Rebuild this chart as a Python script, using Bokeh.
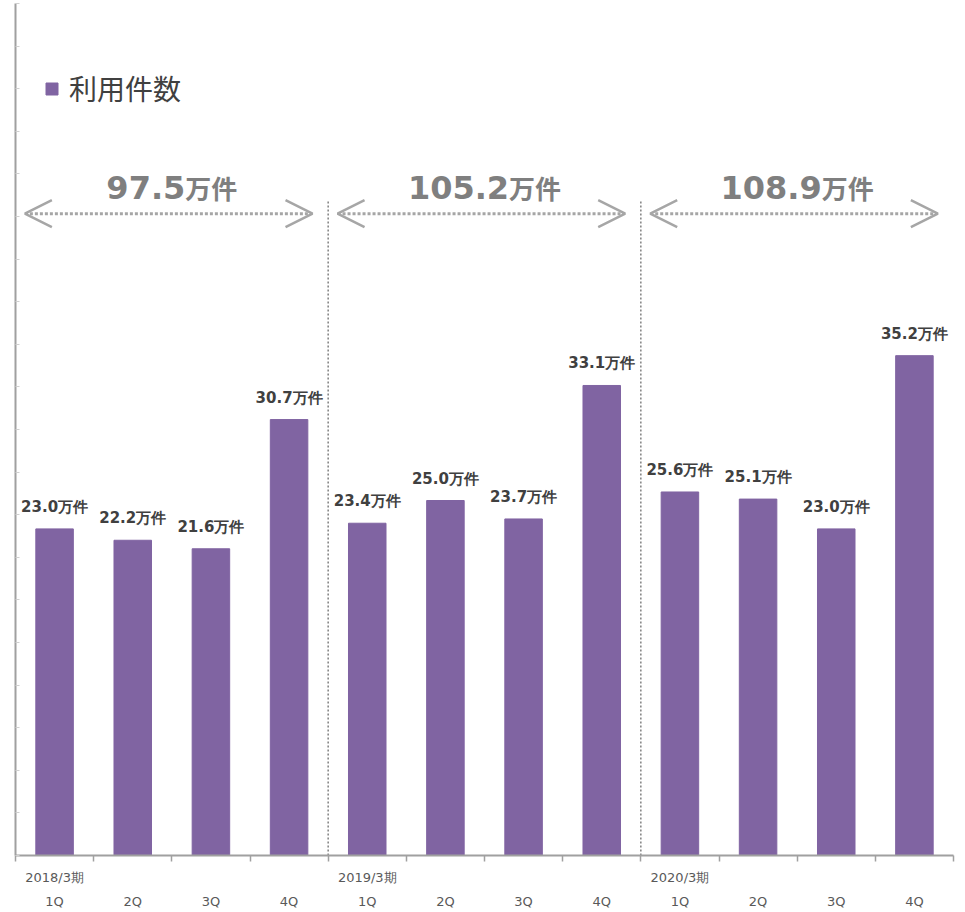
from bokeh.plotting import figure
from bokeh.models import (ColumnDataSource, Range1d, LabelSet, Arrow, OpenHead,
                          FixedTicker, Legend, LegendItem, LinearAxis)
from bokeh.core.properties import value
from bokeh.embed import file_html
from bokeh.resources import INLINE

# ---- data ----
periods = ["2018/3期", "2019/3期", "2020/3期"]
quarters = ["1Q", "2Q", "3Q", "4Q"]
values = [23.0, 22.2, 21.6, 30.7, 23.4, 25.0, 23.7, 33.1, 25.6, 25.1, 23.0, 35.2]
totals = [97.5, 105.2, 108.9]
unit = "万件"
series_name = "利用件数"

# ---- styles ----
BAR = "#8064A2"
TXT = "#404040"
TOT = "#7F7F7F"
ARW = "#A6A6A6"
AXC = "#A0A0A0"
LBL = "#595959"

n_q = len(quarters)
n = len(values)
xs = [i + 0.5 for i in range(n)]
quarter_labels = [quarters[i % n_q] for i in range(n)]
value_labels = [f"{v:.1f}{unit}" for v in values]
period_x = [i * n_q + 0.5 for i in range(len(periods))]

Y_MAX = 60
ARROW_Y = 45.2
SEP_TOP = 46.2

p = figure(width=957, height=911, x_range=Range1d(0, n), y_range=Range1d(0, Y_MAX),
           output_backend="svg", toolbar_location=None, title=None,
           x_axis_type=None, y_axis_type=None,
           min_border_left=15, min_border_right=4, min_border_top=3, min_border_bottom=56)
p.outline_line_color = None
p.xgrid.visible = False
p.ygrid.visible = False

# bottom axis: boundary ticks only
bticks = list(range(n + 1))
xax = LinearAxis(ticker=FixedTicker(ticks=bticks),
                 major_label_overrides={t: "" for t in bticks})
xax.major_label_standoff = 0
xax.major_tick_in = 0
xax.major_tick_out = 6
xax.axis_line_color = AXC
xax.axis_line_width = 2
xax.major_tick_line_color = AXC
xax.major_tick_line_width = 1.5
p.add_layout(xax, "below")

# period labels row
pax = LinearAxis(ticker=FixedTicker(ticks=period_x),
                 major_label_overrides={x: t for x, t in zip(period_x, periods)})
pax.axis_line_color = None
pax.major_tick_line_color = None
pax.major_tick_in = 0
pax.major_tick_out = 0
pax.major_label_standoff = 8
pax.major_label_text_font = "DejaVu Sans"
pax.major_label_text_font_size = "13px"
pax.major_label_text_color = LBL
p.add_layout(pax, "below")

# quarter labels row
qax = LinearAxis(ticker=FixedTicker(ticks=xs),
                 major_label_overrides={x: t for x, t in zip(xs, quarter_labels)})
qax.axis_line_color = None
qax.major_tick_line_color = None
qax.major_tick_in = 0
qax.major_tick_out = 0
qax.major_label_standoff = 6
qax.major_label_text_font = "DejaVu Sans"
qax.major_label_text_font_size = "13px"
qax.major_label_text_color = LBL
p.add_layout(qax, "below")

# left axis
lticks = [i * 3 for i in range(21)]
yax = LinearAxis(ticker=FixedTicker(ticks=lticks),
                 major_label_overrides={t: "" for t in lticks})
yax.major_label_standoff = 0
yax.major_tick_in = 4
yax.major_tick_out = 0
yax.axis_line_color = AXC
yax.axis_line_width = 2
yax.major_tick_line_color = "#D0D0D0"
yax.major_tick_line_width = 1
p.add_layout(yax, "left")

# bars
src = ColumnDataSource(dict(x=xs, v=values, label=value_labels))
r = p.vbar(x="x", top="v", width=0.48, source=src, fill_color=BAR, line_color=BAR)

p.add_layout(LabelSet(x="x", y="v", text="label", source=src, y_offset=17,
                      text_align="center", text_baseline="alphabetic",
                      text_font=value("DejaVu Sans"), text_font_style="bold",
                      text_font_size="15px", text_color=TXT))

# group separators
bounds = [i * n_q for i in range(1, len(periods))]
p.segment(x0=bounds, y0=[0] * len(bounds), x1=bounds, y1=[SEP_TOP] * len(bounds),
          line_color="#808080", line_width=1.5, line_dash="2 2")

# arrows
g_start = [i * n_q for i in range(len(periods))]
g_end = [(i + 1) * n_q for i in range(len(periods))]
asrc = ColumnDataSource(dict(x0=[g + 0.12 for g in g_start], x1=[g - 0.2 for g in g_end],
                             y=[ARROW_Y] * len(periods)))
p.add_layout(Arrow(start=OpenHead(size=27, line_color=ARW, line_width=2.5),
                   end=OpenHead(size=27, line_color=ARW, line_width=2.5),
                   x_start="x0", y_start="y", x_end="x1", y_end="y", source=asrc,
                   line_color=ARW, line_width=3, line_dash="3 2"))

# totals
NUM_PX = 32
UNIT_PX = 26
def num_width(s):
    return sum(0.38 * NUM_PX if c == "." else 0.696 * NUM_PX for c in s)
tot_txt = [f"{t:.1f}" for t in totals]
offs = [(num_width(s) - 2 * UNIT_PX) / 2 for s in tot_txt]
tsrc = ColumnDataSource(dict(x=[(a + b) / 2 for a, b in zip(g_start, g_end)],
                             y=[ARROW_Y] * len(totals), t=tot_txt, u=[unit] * len(totals),
                             off=offs))
p.add_layout(LabelSet(x="x", y="y", text="t", source=tsrc, x_offset="off", y_offset=15,
                      text_align="right", text_baseline="alphabetic",
                      text_font=value("DejaVu Sans"), text_font_style="bold",
                      text_font_size=f"{NUM_PX}px", text_color=TOT))
p.add_layout(LabelSet(x="x", y="y", text="u", source=tsrc, x_offset="off", y_offset=15,
                      text_align="left", text_baseline="alphabetic",
                      text_font=value("Noto Sans CJK JP"), text_font_style="bold",
                      text_font_size=f"{UNIT_PX}px", text_color=TOT))

# legend
legend = Legend(items=[LegendItem(label=series_name, renderers=[r])],
                location=(29, 747), orientation="vertical",
                glyph_width=15, glyph_height=15, label_standoff=10,
                padding=0, margin=0, spacing=0,
                border_line_color=None, background_fill_alpha=0,
                label_text_font="Noto Sans CJK JP", label_text_font_size="28px",
                label_text_color=TXT)
p.add_layout(legend)

open("out.html", "w").write(file_html(p, INLINE))
